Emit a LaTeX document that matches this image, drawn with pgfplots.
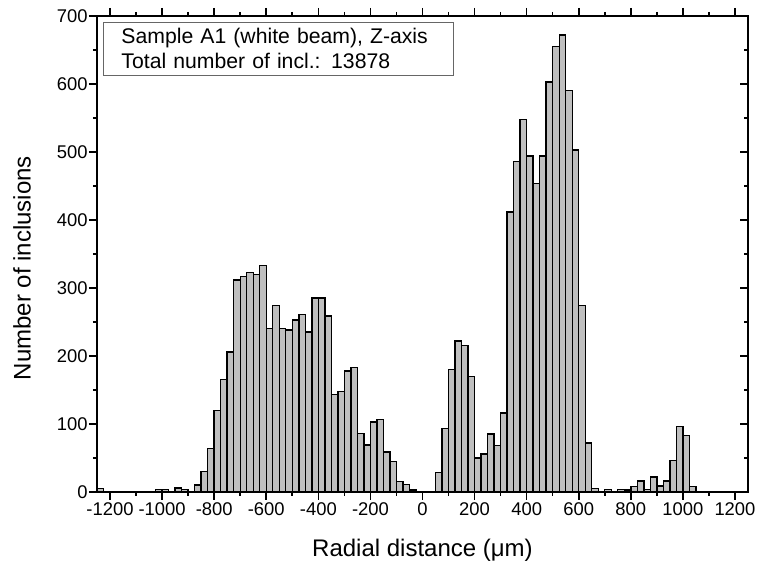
\documentclass[border=0pt]{standalone}
\usepackage{fontspec}
\setmainfont{Liberation Sans}
\usepackage{pgfplots}
\pgfplotsset{compat=1.18}
\begin{document}
\begin{tikzpicture}
\begin{axis}[
  scale only axis, width=325.5pt, height=238pt,
  xmin=-1250, xmax=1250, ymin=0, ymax=700,
  xtick={-1200,-1000,...,1200}, minor x tick num=1,
  ytick={0,100,...,700}, minor y tick num=1,
  xtick pos=both, ytick pos=left,
  xticklabel pos=lower, yticklabel pos=left,
  tick align=outside,
  major tick length=4pt, minor tick length=2pt,
  every tick/.style={black, line width=0.8pt},
  axis line style={line width=0.9pt},
  /pgf/number format/assume math mode=true,
  /pgf/number format/1000 sep={},
  ticklabel style={font=\fontsize{9.2}{11}\selectfont},
  yticklabel style={inner xsep=0.5pt},
  xticklabel style={inner ysep=1.2pt},
  xlabel={Radial distance (μm)}, ylabel={Number of inclusions},
  label style={font=\fontsize{12}{14}\selectfont},
  xlabel style={at={(axis description cs:0.5,-0.122)}, anchor=center},
  ylabel style={at={(axis description cs:-0.115,0.47)}, anchor=center},
  clip=false, axis on top,
]
\addplot[ybar interval, fill=black!25, draw=black, line width=0.7pt] table[x=x, y=y] {
x y
-1250 5
-1225 1
-1200 0
-1175 0
-1150 0
-1125 1
-1100 1
-1075 0
-1050 0
-1025 4
-1000 4
-975 0
-950 6
-925 4
-900 0
-875 10
-850 30
-825 64
-800 120
-775 165
-750 206
-725 312
-700 317
-675 323
-650 320
-625 333
-600 240
-575 274
-550 240
-525 238
-500 253
-475 261
-450 235
-425 285
-400 285
-375 259
-350 143
-325 148
-300 178
-275 183
-250 86
-225 69
-200 103
-175 107
-150 59
-125 45
-100 15
-75 11
-50 3
-25 1
0 1
25 0
50 29
75 93
100 180
125 222
150 215
175 170
200 50
225 56
250 85
275 68
300 116
325 412
350 486
375 548
400 494
425 454
450 494
475 603
500 655
525 672
550 590
575 503
600 274
625 72
650 5
675 1
700 4
725 1
750 4
775 3
800 8
825 16
850 4
875 22
900 9
925 16
950 46
975 96
1000 83
1025 8
1050 1
1075 0
};
\node[draw=black!60, line width=0.5pt, anchor=north west, inner xsep=9pt, inner ysep=3pt,
  text width=157pt, align=left, font=\fontsize{10.6}{12.5}\selectfont]
  at (axis cs:-1227,691) {Sample A1 (white beam), Z-axis\\Total number of incl.: 13878};
\path (rel axis cs:0,0) ++(-48.5pt,-40.5pt) rectangle ++(386pt,286.5pt);
\end{axis}
\begin{axis}[
  scale only axis, width=325.5pt, height=238pt,
  xmin=-1250, xmax=1250, ymin=0, ymax=700,
  axis x line=none, axis y line*=right,
  ytick={0,100,...,700}, minor y tick num=1, yticklabels={},
  tick align=inside,
  major tick length=4pt, minor tick length=2pt,
  every tick/.style={black, line width=0.8pt},
  axis line style={line width=0.9pt, -},
]
\end{axis}
\end{tikzpicture}
\end{document}
